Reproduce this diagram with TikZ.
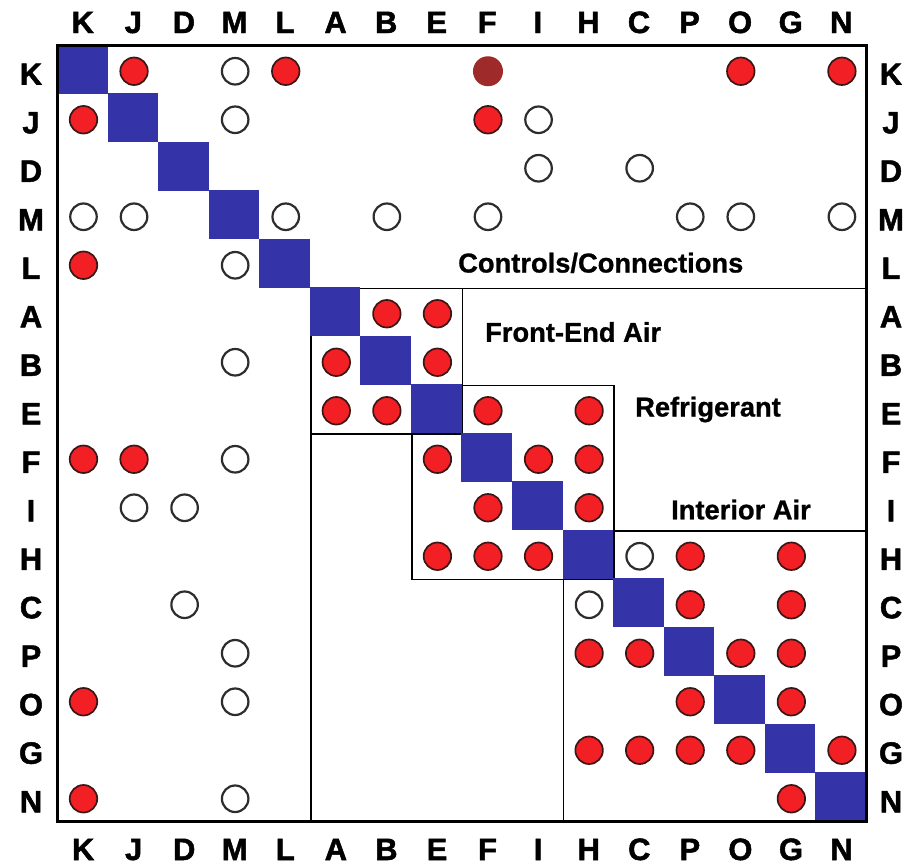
\documentclass[tikz,border=0pt]{standalone}
\usepackage{fontspec}
\setmainfont{Liberation Sans}
\newfontfamily\axfont{Liberation Sans}[BoldFeatures={FakeBold=1.6}]
\newfontfamily\blkfont{Liberation Sans}[BoldFeatures={FakeBold=0.9}]
\definecolor{dsmblue}{RGB}{52,52,168}
\definecolor{dsmred}{RGB}{242,32,36}
\definecolor{dsmedge}{RGB}{60,22,22}
\definecolor{dsmgray}{RGB}{48,44,44}
\definecolor{dsmdark}{RGB}{158,42,42}
\tikzset{
  ax/.style={font=\axfont\fontsize{31}{31}\selectfont\bfseries, inner sep=0pt, anchor=base},
  blk/.style={font=\blkfont\fontsize{27.4}{30}\selectfont\bfseries, inner sep=0pt, anchor=base west},
  diag/.style={fill=dsmblue, draw=none, inner sep=0pt, minimum width=50.6bp, minimum height=48.6bp},
  redc/.style={circle, fill=dsmred, draw=dsmedge, line width=1.7bp, minimum size=27.5bp, inner sep=0pt},
  openc/.style={circle, fill=white, draw=dsmgray, line width=2.2bp, minimum size=26.5bp, inner sep=0pt},
  darkc/.style={circle, fill=dsmdark, draw=none, minimum size=30bp, inner sep=0pt},
  blkline/.style={draw=black, line width=1.5bp},
  frameline/.style={draw=black, line width=3bp}
}
\begin{document}
\begin{tikzpicture}[x=1bp,y=-1bp]
\useasboundingbox (0,0) rectangle (907,866);
\fill[white] (0,0) rectangle (907,866);
% grid: x0=57, w=50.5625 ; y0=45, h=48.5
\foreach \n [count=\i from 0] in {K,J,D,M,L,A,B,E,F,I,H,C,P,O,G,N}{
  \coordinate (c\n) at ({57+(\i+0.5)*50.5625+1.2},0);
  \coordinate (r\n) at (0,{45+(\i+0.5)*48.5+2});
  \node[ax] (top\n) at ({57+(\i+0.5)*50.5625+0.5},33) {\n};
  \node[ax] (bot\n) at ({57+(\i+0.5)*50.5625+0.8},860) {\n};
  \node[ax] (lft\n) at (31,{45+(\i+0.5)*48.5+15.5}) {\n};
  \node[ax] (rgt\n) at (891,{45+(\i+0.5)*48.5+15.5}) {\n};
}
% block boundaries
\draw[blkline] (310.8,821) -- (310.8,288.5) -- (866,288.5);
\draw[blkline] (310.8,288.5) rectangle (462.5,434);
\draw[blkline] (411.9,385.5) rectangle (614.2,579.5);
\draw[blkline] (563.6,531) rectangle (866,821);
% diagonal
\foreach \n [count=\i from 0] in {K,J,D,M,L,A,B,E,F,I,H,C,P,O,G,N}{
  \node[diag] (d\n) at ({57+(\i+0.5)*50.5625},{45+(\i+0.5)*48.5}) {};
}
% frame
\draw[frameline] (57,45) rectangle (866,821);
% block labels
\node[blk] (lblCC) at (458,272.5) {Controls/Connections};
\node[blk] (lblFE) at (485,341.8) {Front-End Air};
\node[blk] (lblRF) at (635,416.5) {Refrigerant};
\node[blk] (lblIA) at (671,519.3) {Interior Air};
% red marks
\foreach \r/\c in {K/J,K/L,K/O,K/N,J/K,J/F,L/K,A/B,A/E,B/A,B/E,E/A,E/B,E/F,E/H,
  F/K,F/J,F/E,F/I,F/H,I/F,I/H,H/E,H/F,H/I,H/P,H/G,C/P,C/G,P/H,P/C,P/O,P/G,
  O/K,O/P,O/G,G/H,G/C,G/P,G/O,G/N,N/K,N/G}{
  \node[redc] (m\r\c) at (c\c |- r\r) {};
}
% open marks
\foreach \r/\c in {K/M,J/M,J/I,D/I,D/C,M/K,M/J,M/L,M/B,M/F,M/P,M/O,M/N,L/M,B/M,
  F/M,I/J,I/D,H/C,C/D,C/H,P/M,O/M,N/M}{
  \node[openc] (m\r\c) at (c\c |- r\r) {};
}
% dark mark
\node[darkc] (mKF) at (cF |- rK) {};
\end{tikzpicture}
\end{document}
